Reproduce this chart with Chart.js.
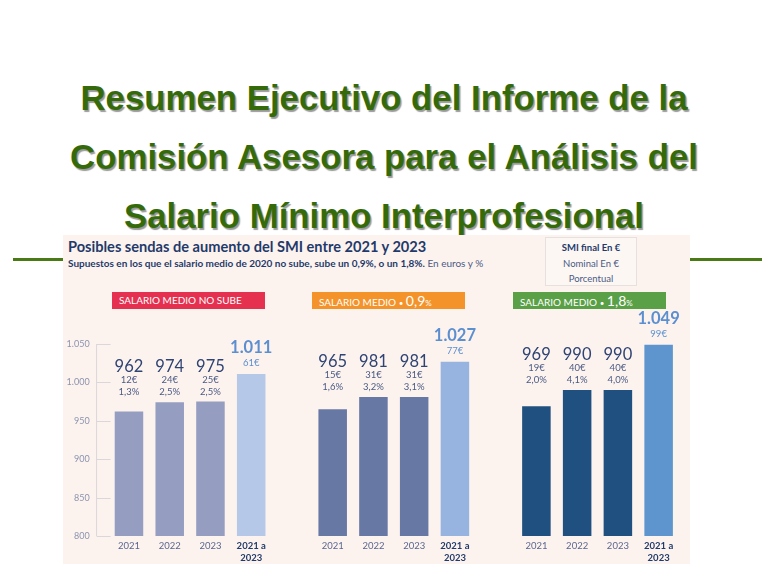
<!DOCTYPE html>
<html lang="es">
<head>
<meta charset="utf-8">
<script src="https://cdn.jsdelivr.net/npm/chart.js@4"></script>
<style>
  html, body { margin: 0; padding: 0; background: #fff; }
  body { width: 768px; height: 564px; position: relative; overflow: hidden; font-family: 'Liberation Sans', Arial, sans-serif; }
  .title { position: absolute; left: 0; width: 768px; text-align: center; color: #356a0b; font-weight: bold; font-size: 34.8px; line-height: 40px;
           text-shadow: 1.5px 1.5px 1px rgba(0,0,0,0.4); white-space: nowrap; }
  .rule { position: absolute; top: 258px; height: 3px; background: #4a7a16; }
  .panel { position: absolute; left: 63px; top: 235px; width: 627px; height: 340px; background: #fdf3ee; }
  .head { position: absolute; left: 68px; top: 238px; font-family: Lato, sans-serif; font-weight: bold; font-size: 14.6px; color: #1f3a6b; white-space: nowrap; }
  .sub { position: absolute; left: 68px; top: 257px; font-family: Lato, sans-serif; font-weight: bold; font-size: 10px; color: #1f3a6b; white-space: nowrap; }
  .sub span { font-weight: normal; color: #4a5a85; }
  .key { position: absolute; left: 545px; top: 237px; width: 92px; height: 49px; background: #fdf7f4; border: 1px solid #e6e0de;
         font-family: Lato, sans-serif; font-size: 9.5px; color: #4a5a85; text-align: center; line-height: 15.5px; padding-top: 2px; box-sizing: border-box; }
  .key b { color: #1f3a6b; }
  .tag { position: absolute; top: 292px; width: 153px; height: 17px; color: #fff; font-family: Lato, sans-serif; font-size: 10px;
         line-height: 17px; padding-left: 7px; box-sizing: border-box; white-space: nowrap; }
  .tag big { font-size: 14px; }
  .tag small { font-size: 8px; }
  #chart { position: absolute; left: 0; top: 0; }
</style>
</head>
<body>
<div class="title" style="top:78px">Resumen Ejecutivo del Informe de la</div>
<div class="title" style="top:137px">Comisión Asesora para el Análisis del</div>
<div class="rule" style="left:13px;width:60px"></div>
<div class="rule" style="left:680px;width:82px"></div>
<div class="title" style="top:196px">Salario Mínimo Interprofesional</div>
<div class="panel"></div>
<div class="head">Posibles sendas de aumento del SMI entre 2021 y 2023</div>
<div class="sub">Supuestos en los que el salario medio de 2020 no sube, sube un 0,9%, o un 1,8%. <span>En euros y %</span></div>
<div class="key"><b>SMI final En €</b><br>Nominal En €<br>Porcentual</div>
<div class="tag" style="left:112px;background:#e5304f">SALARIO MEDIO NO SUBE</div>
<div class="tag" style="left:312px;background:#f3932a">SALARIO MEDIO <small>•</small> <big>0,9</big><small>%</small></div>
<div class="tag" style="left:513px;background:#5aa047">SALARIO MEDIO <small>•</small> <big>1,8</big><small>%</small></div>
<canvas id="chart" width="768" height="564"></canvas>

<script>
// ── DATA ─────────────────────────────────────────────────────────────────────
const years = ['2021', '2022', '2023', '2021 a 2023'];

const smiNoSube = [962, 974, 975, 1011];
const smi09     = [965, 981, 981, 1027];
const smi18     = [969, 990, 990, 1049];

const nominalNoSube = [12, 24, 25, 61];
const nominal09     = [15, 31, 31, 77];
const nominal18     = [19, 40, 40, 99];

const pctNoSube = ['1,3%', '2,5%', '2,5%'];
const pct09     = ['1,6%', '3,2%', '3,1%'];
const pct18     = ['2,0%', '4,1%', '4,0%'];

const yMin = 800, yMax = 1050, yStep = 50;

// ── COLOURS ──────────────────────────────────────────────────────────────────
const barColors = [
  ['#959ec1', '#959ec1', '#959ec1', '#b5c8e8'],
  ['#6878a4', '#6878a4', '#6878a4', '#97b4e0'],
  ['#20507f', '#20507f', '#20507f', '#5e95cf'],
];
const NUM_COLOR = '#2f4474';
const SMALL_COLOR = '#4a5a85';
const TOTAL_COLOR = '#5b8fd0';

// ── BUILD SLOTS (4 bars, gap, 4 bars, gap, 4 bars) ───────────────────────────
const groups = [
  { values: smiNoSube, nominal: nominalNoSube, pct: pctNoSube },
  { values: smi09,     nominal: nominal09,     pct: pct09 },
  { values: smi18,     nominal: nominal18,     pct: pct18 },
];

const labels = [], data = [], colors = [], slotInfo = [];
groups.forEach((g, gi) => {
  if (gi > 0) { labels.push(''); data.push(null); colors.push('transparent'); slotInfo.push(null); }
  years.forEach((y, i) => {
    labels.push(i === 3 ? ['2021 a', '2023'] : y);
    data.push(g.values[i]);
    colors.push(barColors[gi][i]);
    slotInfo.push({ g: gi, i });
  });
});

const fmt = v => v >= 1000 ? Math.floor(v / 1000) + '.' + String(v % 1000).padStart(3, '0') : String(v);
const isTotal = idx => !!(slotInfo[idx] && slotInfo[idx].i === 3);

// ── PLUGINS ──────────────────────────────────────────────────────────────────
const axisLine = {
  id: 'axisLine',
  beforeDatasetsDraw(chart) {
    const { ctx, chartArea, scales: { y } } = chart;
    const x0 = chartArea.left - 12;
    ctx.save();
    ctx.strokeStyle = '#d9d6dc';
    ctx.lineWidth = 1;
    ctx.beginPath();
    ctx.moveTo(x0, y.getPixelForValue(yMax));
    ctx.lineTo(x0, y.getPixelForValue(yMin));
    for (let v = yMin; v <= yMax; v += yStep) {
      const py = Math.round(y.getPixelForValue(v)) + 0.5;
      ctx.moveTo(x0, py);
      ctx.lineTo(x0 + 14, py);
    }
    ctx.stroke();
    ctx.restore();
  },
};

const valueLabels = {
  id: 'valueLabels',
  afterDatasetsDraw(chart) {
    const { ctx, scales: { y } } = chart;
    const meta = chart.getDatasetMeta(0);
    ctx.save();
    ctx.textAlign = 'center';
    ctx.textBaseline = 'middle';
    slotInfo.forEach((s, idx) => {
      if (!s) return;
      const g = groups[s.g];
      const x = meta.data[idx].x;
      if (s.i === 3) {
        const top = y.getPixelForValue(g.values[3]);
        ctx.fillStyle = TOTAL_COLOR;
        ctx.font = 'bold 16.5px Lato';
        ctx.fillText(fmt(g.values[3]), x, top - 26);
        ctx.font = '9.5px Lato';
        ctx.fillText(g.nominal[3] + '€', x, top - 11);
      } else {
        const top = y.getPixelForValue(Math.max(...g.values.slice(0, 3)));
        ctx.fillStyle = NUM_COLOR;
        ctx.font = '16.5px Lato';
        ctx.fillText(fmt(g.values[s.i]), x, top - 35);
        ctx.fillStyle = SMALL_COLOR;
        ctx.font = '9.5px Lato';
        ctx.fillText(g.nominal[s.i] + '€', x, top - 22);
        ctx.fillText(g.pct[s.i], x, top - 10);
      }
    });
    ctx.restore();
  },
};

// ── CHART ────────────────────────────────────────────────────────────────────
new Chart(document.getElementById('chart'), {
  type: 'bar',
  data: {
    labels,
    datasets: [{
      data,
      backgroundColor: colors,
      borderWidth: 0,
      categoryPercentage: 1,
      barPercentage: 0.7,
    }],
  },
  options: {
    responsive: false,
    animation: false,
    events: [],
    layout: { padding: { top: 344, right: 89, bottom: 0, left: 0 } },
    plugins: { legend: { display: false }, tooltip: { enabled: false } },
    scales: {
      x: {
        grid: { display: false, drawTicks: false },
        border: { display: false },
        afterFit: s => { s.height = 28; },
        ticks: {
          padding: 4,
          autoSkip: false,
          maxRotation: 0,
          font: ctx => ({ family: 'Lato', size: 9.5, lineHeight: 1.25, weight: isTotal(ctx.index) ? 'bold' : 'normal' }),
          color: ctx => isTotal(ctx.index) ? '#1f3a6b' : '#5a6690',
        },
      },
      y: {
        min: yMin, max: yMax,
        grid: { display: false, drawTicks: false },
        border: { display: false },
        afterFit: s => { s.width = 108.6; },
        ticks: {
          stepSize: yStep,
          padding: 19,
          color: '#8c93b0',
          font: { family: 'Lato', size: 9 },
          callback: v => fmt(v),
        },
      },
    },
  },
  plugins: [axisLine, valueLabels],
});
</script>
</body>
</html>
